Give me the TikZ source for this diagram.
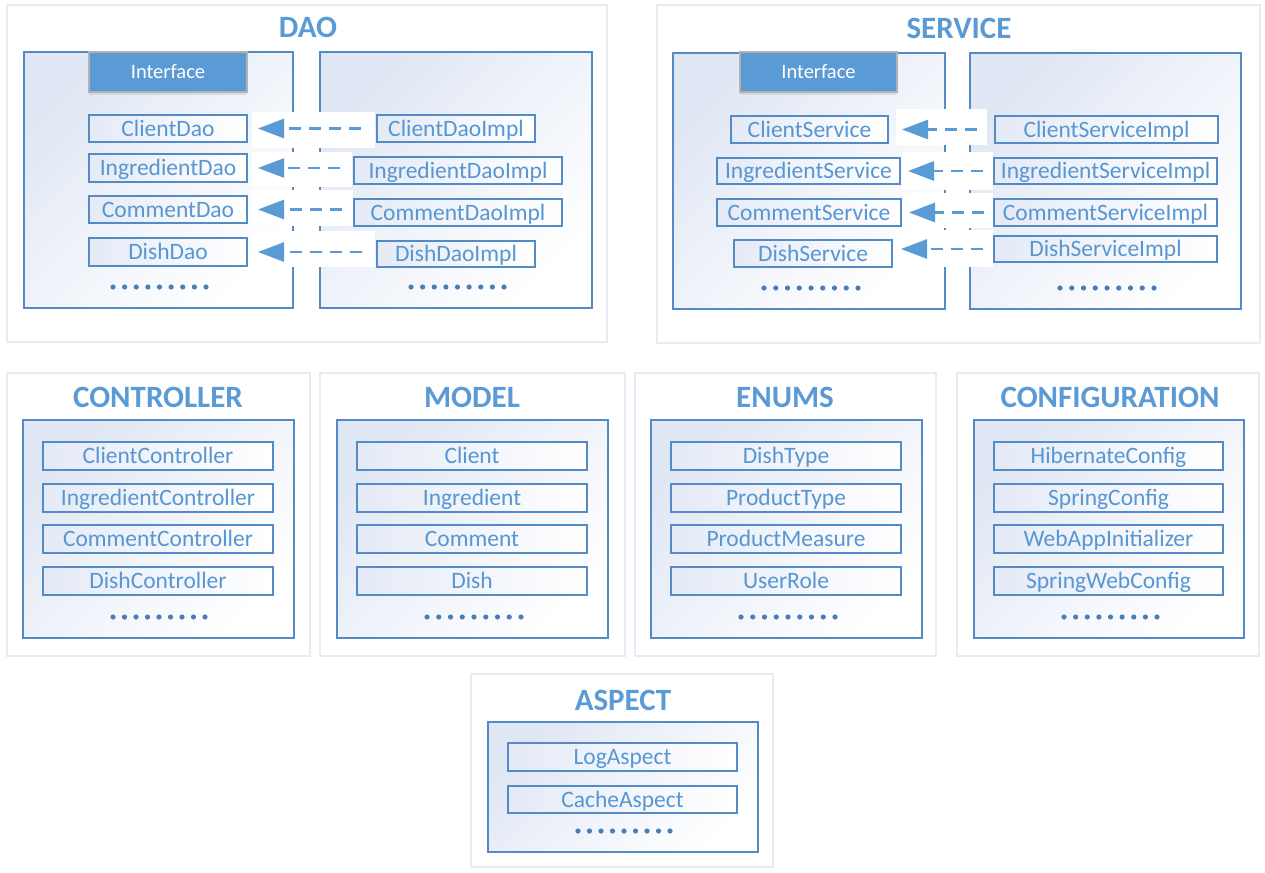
\documentclass[tikz,border=0pt]{standalone}
\usepackage{fontspec}
\setmainfont{Carlito}
\usetikzlibrary{arrows.meta,shadows}
\definecolor{titc}{RGB}{91,155,213}
\definecolor{txtc}{RGB}{88,150,210}
\definecolor{boxc}{RGB}{84,138,198}
\definecolor{ifc}{RGB}{91,155,213}
\definecolor{dotc}{RGB}{74,126,187}
\definecolor{arrc}{RGB}{91,155,213}
\definecolor{panelc}{RGB}{230,235,244}
\definecolor{tint}{RGB}{224,231,244}
\definecolor{itint}{RGB}{228,234,246}
\tikzset{
  panel/.style={draw=panelc, line width=2.5pt, fill=white},
  inner/.style={draw=boxc, line width=2.5pt, top color=tint, bottom color=white, shading angle=45},
  item/.style={draw=boxc, line width=2pt, left color=itint, right color=white, text=txtc,
    font=\fontsize{23.5}{25}\selectfont, inner sep=0pt, rectangle,
    text height=20.5pt, text depth=5.5pt},
  iface/.style={draw=black!30, line width=2pt, fill=ifc, text=white, inner sep=0pt,
    font=\fontsize{20.5}{22}\selectfont, text height=18pt, text depth=5pt,
    drop shadow={shadow xshift=0pt, shadow yshift=-3pt, opacity=0.18}},
  ttl/.style={text=titc, font=\fontsize{31}{33}\selectfont\bfseries, anchor=base, inner sep=0pt},
  conn/.style={draw=arrc, line width=2.8pt, dash pattern=on 12pt off 8pt,
    -{Triangle[length=26pt,width=19pt]}},
  wpatch/.style={fill=white, draw=none}
}
\newcommand\itm[7][item]{\node[#1, minimum width={(#5-#3)*1pt}, minimum height={(#6-#4)*1pt}] (#2) at ({(#3+#5)/2},{(#4+#6)/2}) {#7};}
\newcommand\dotrow[3]{\foreach \i in {0,...,8} {\fill[dotc] ({#1+\i*(#2-#1)/8},#3) circle[radius=2.6];}}
\begin{document}
\begin{tikzpicture}[x=1pt,y=-1pt]
\useasboundingbox (0,0) rectangle (1265,872);
\fill[white] (0,0) rectangle (1265,872);

% ---------------- DAO ----------------
\path[panel] (7,5) rectangle (607,342);
\node[ttl] (tdao) at (308,38) {DAO};
\path[inner] (24,52) rectangle (293,308);
\path[inner] (320,52) rectangle (592,308);
\path[wpatch] (252,112) rectangle (375,148);
\path[wpatch] (252,152) rectangle (352,187);
\path[wpatch] (252,190) rectangle (353,226);
\path[wpatch] (252,231) rectangle (375,267);
\itm[iface]{ifdao}{89}{52}{247}{92}{Interface}
\itm{cdao}{89}{115}{247}{142}{ClientDao}
\itm{idao}{89}{154}{247}{182}{IngredientDao}
\itm{mdao}{89}{196}{247}{223}{CommentDao}
\itm{ddao}{89}{238}{247}{266}{DishDao}
\itm{cdaoi}{377}{115}{535}{142}{ClientDaoImpl}
\itm{idaoi}{354}{157}{562}{184}{IngredientDaoImpl}
\itm{mdaoi}{354}{199}{562}{226}{CommentDaoImpl}
\itm{ddaoi}{377}{241}{535}{267}{DishDaoImpl}
\draw[conn, shorten <=15pt, shorten >=10pt] (cdaoi.west |- cdao.east) -- (cdao.east);
\draw[conn, shorten <=13pt, shorten >=10pt] (idaoi.west |- idao.east) -- (idao.east);
\draw[conn, shorten <=11pt, shorten >=10pt] (mdaoi.west |- mdao.east) -- (mdao.east);
\draw[conn, shorten <=14pt, shorten >=10pt] (ddaoi.west |- ddao.east) -- (ddao.east);
\dotrow{113}{206}{287}
\dotrow{411}{504}{287}

% ---------------- SERVICE ----------------
\path[panel] (657,5) rectangle (1260,343);
\node[ttl] (tsrv) at (959,39) {SERVICE};
\path[inner] (673,53) rectangle (945,309);
\path[inner] (970,53) rectangle (1241,309);
\path[wpatch] (896,109) rectangle (987,145);
\path[wpatch] (902,152) rectangle (993,190);
\path[wpatch] (903,193) rectangle (993,228);
\path[wpatch] (894,230) rectangle (993,267);
\itm[iface]{ifsrv}{740}{52}{897}{92}{Interface}
\itm{csrv}{731}{116}{888}{143}{ClientService}
\itm{isrv}{717}{158}{900}{184}{IngredientService}
\itm{msrv}{717}{199}{901}{226}{CommentService}
\itm{dsrv}{734}{240}{892}{267}{DishService}
\itm{csrvi}{995}{116}{1218}{143}{ClientServiceImpl}
\itm{isrvi}{994}{158}{1217}{184}{IngredientServiceImpl}
\itm{msrvi}{994}{199}{1217}{226}{CommentServiceImpl}
\itm{dsrvi}{994}{236}{1217}{262}{DishServiceImpl}
\draw[conn, shorten <=17pt, shorten >=13pt] (csrvi.west) -- (csrvi.west -| csrv.east);
\draw[conn, shorten <=10pt, shorten >=7pt] (isrvi.west) -- (isrvi.west -| isrv.east);
\draw[conn, shorten <=9pt, shorten >=7pt] (msrvi.west) -- (msrvi.west -| msrv.east);
\draw[conn, shorten <=10pt, shorten >=8pt] (dsrvi.west) -- (dsrvi.west -| dsrv.east);
\dotrow{764}{858}{288}
\dotrow{1060}{1154}{288}

% ---------------- CONTROLLER ----------------
\path[panel] (7,373) rectangle (310,656);
\node[ttl] (tctl) at (158,407) {CONTROLLER};
\path[inner] (23,420) rectangle (294,638);
\itm{cctl}{43}{442}{273}{470}{ClientController}
\itm{ictl}{43}{484}{273}{512}{IngredientController}
\itm{mctl}{43}{525}{273}{553}{CommentController}
\itm{dctl}{43}{567}{273}{595}{DishController}
\dotrow{113}{205}{617}

% ---------------- MODEL ----------------
\path[panel] (320,373) rectangle (625,656);
\node[ttl] (tmod) at (472,407) {MODEL};
\path[inner] (337,420) rectangle (608,638);
\itm{cmod}{357}{442}{587}{470}{Client}
\itm{imod}{357}{484}{587}{512}{Ingredient}
\itm{mmod}{357}{525}{587}{553}{Comment}
\itm{dmod}{357}{567}{587}{595}{Dish}
\dotrow{427}{521}{617}

% ---------------- ENUMS ----------------
\path[panel] (635,373) rectangle (936,656);
\node[ttl] (tenu) at (785,407) {ENUMS};
\path[inner] (651,420) rectangle (922,638);
\itm{denu}{671}{442}{901}{470}{DishType}
\itm{penu}{671}{484}{901}{512}{ProductType}
\itm{menu}{671}{525}{901}{553}{ProductMeasure}
\itm{uenu}{671}{567}{901}{595}{UserRole}
\dotrow{741}{835}{617}

% ---------------- CONFIGURATION ----------------
\path[panel] (957,373) rectangle (1259,656);
\node[ttl] (tcfg) at (1110,407) {CONFIGURATION};
\path[inner] (974,420) rectangle (1244,638);
\itm{hcfg}{994}{442}{1223}{470}{HibernateConfig}
\itm{scfg}{994}{484}{1223}{512}{SpringConfig}
\itm{wcfg}{994}{525}{1223}{553}{WebAppInitializer}
\itm{swcfg}{994}{567}{1223}{595}{SpringWebConfig}
\dotrow{1064}{1157}{617}

% ---------------- ASPECT ----------------
\path[panel] (471,674) rectangle (773,867);
\node[ttl] (tasp) at (623,710) {ASPECT};
\path[inner] (488,722) rectangle (758,852);
\itm{lasp}{508}{743}{737}{771}{LogAspect}
\itm{casp}{508}{786}{737}{813}{CacheAspect}
\dotrow{578}{670}{831}
\end{tikzpicture}
\end{document}
